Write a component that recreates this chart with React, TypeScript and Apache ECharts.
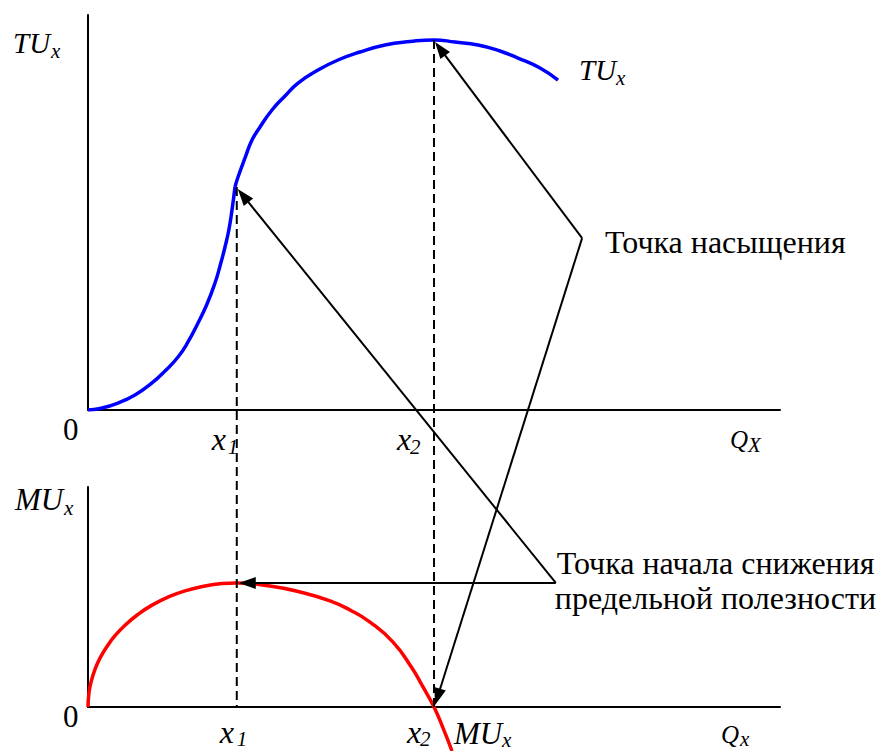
import React, { useEffect, useRef } from "react";
import * as echarts from "echarts";

// Total utility TU(Q): lower convex part up to x1, upper concave part after x1
const tuLowerQ = [0, 1.73, 4.34, 6.79, 9.25, 11.13, 13.01, 14.45, 15.9, 17.2, 18.35, 19.08, 19.8, 20.38, 20.81, 21.24];
const tuLowerValues = [0, 0.38, 1.77, 3.8, 6.84, 9.87, 13.42, 17.22, 22.03, 26.84, 32.15, 36.46, 41.27, 45.82, 50.63, 56.46];
const tuUpperQ = [21.24, 21.68, 22.69, 23.7, 24.86, 26.59, 28.47, 30.35, 33.24, 36.13, 39.31, 42.92, 46.53, 50.0, 53.03, 56.36, 59.54, 62.14, 65.32, 67.92];
const tuUpperValues = [56.46, 58.99, 63.8, 68.35, 71.65, 75.95, 79.49, 82.78, 86.08, 88.61, 90.63, 92.41, 93.29, 93.7, 93.16, 92.41, 90.89, 89.11, 86.58, 83.54];

// Marginal utility MU(Q)
const muQ = [0, 0.14, 0.43, 1.01, 1.73, 2.75, 3.9, 5.35, 7.23, 9.25, 11.56, 14.02, 16.91, 19.36, 21.5, 26.3, 30.64, 34.97, 37.86, 40.75, 44.08, 46.82, 48.41, 50.0, 51.3, 52.6];
const muValues = [0, 6.5, 11.2, 17.1, 22.2, 27.5, 32.4, 37.2, 42.1, 46.3, 49.95, 52.8, 55.0, 56.1, 56.4, 55.0, 52.3, 48.2, 44.1, 38.6, 29.5, 17.7, 9.1, 0, -9.5, -20];

// Key points
const keyQ = [21.5, 50]; // x1, x2
const kinkTU = 56.46; // TU at x1
const peakTU = 93.7; // TU at x2 (saturation)
const peakMU = 56.4; // MU at x1

// Annotation anchors (in data units of each panel)
const saturationAnchor = [71.4, 43.5]; // top panel
const declineAnchor = [67.6, 56.4]; // bottom panel

const textSaturation = "Точка насыщения";
const textDecline = ["Точка начала снижения", "предельной полезности"];

const FAMILY = "Liberation Serif";

function zip(a: number[], b: number[]) {
  return a.map((v, i) => [v, b[i]]);
}

function txt(x: number, baseline: number, text: string, size: number, italic: boolean) {
  return {
    type: "text",
    z: 100,
    x,
    y: baseline - 0.34 * size,
    style: {
      text,
      fontSize: size,
      fontFamily: FAMILY,
      fontStyle: italic ? "italic" : "normal",
      fill: "#000",
      align: "left",
      verticalAlign: "middle",
    },
  };
}

function arrow(from: number[], to: number[], len = 17, half = 6) {
  const dx = to[0] - from[0];
  const dy = to[1] - from[1];
  const d = Math.sqrt(dx * dx + dy * dy);
  const ux = dx / d;
  const uy = dy / d;
  const bx = to[0] - ux * len;
  const by = to[1] - uy * len;
  const nx = -uy;
  const ny = ux;
  return [
    {
      type: "line",
      z: 90,
      shape: { x1: from[0], y1: from[1], x2: bx + ux * 2, y2: by + uy * 2 },
      style: { stroke: "#000", lineWidth: 2 },
    },
    {
      type: "polygon",
      z: 91,
      shape: {
        points: [
          [to[0], to[1]],
          [bx + nx * half, by + ny * half],
          [bx - nx * half, by - ny * half],
        ],
      },
      style: { fill: "#000", stroke: "none" },
    },
  ];
}

export default function App() {
  const ref = useRef<HTMLDivElement>(null);

  useEffect(() => {
    const chart = echarts.init(ref.current!, null, { renderer: "svg" });
    const axisLine = { show: true, onZero: false, lineStyle: { color: "#000", width: 2 } };
    const axisBase = {
      type: "value",
      min: 0,
      max: 100,
      axisLine,
      axisTick: { show: false },
      axisLabel: { show: false },
      splitLine: { show: false },
    };
    const curve = {
      type: "line",
      smooth: 0.5,
      symbol: "none",
      z: 5,
    };
    chart.setOption({
      animation: false,
      backgroundColor: "#fff",
      grid: [
        { left: 88, top: 15, width: 692, height: 395 },
        { left: 88, top: 487, width: 692, height: 220 },
      ],
      xAxis: [
        { ...axisBase, gridIndex: 0 },
        { ...axisBase, gridIndex: 1 },
      ],
      yAxis: [
        { ...axisBase, gridIndex: 0 },
        { ...axisBase, gridIndex: 1 },
      ],
      series: [
        {
          ...curve,
          xAxisIndex: 0,
          yAxisIndex: 0,
          data: zip(tuLowerQ, tuLowerValues),
          lineStyle: { color: "#0000ff", width: 3.5 },
        },
        {
          ...curve,
          xAxisIndex: 0,
          yAxisIndex: 0,
          data: zip(tuUpperQ, tuUpperValues),
          lineStyle: { color: "#0000ff", width: 3.5 },
        },
        {
          ...curve,
          xAxisIndex: 1,
          yAxisIndex: 1,
          data: zip(muQ, muValues),
          clip: false,
          lineStyle: { color: "#ff0000", width: 3.5 },
        },
      ],
    });

    const toPx = (g: number, p: number[]) => chart.convertToPixel({ gridIndex: g } as any, p) as number[];
    const o0 = toPx(0, [0, 0]);
    const o1 = toPx(1, [0, 0]);
    const px1 = toPx(0, [keyQ[0], 0])[0];
    const px2 = toPx(0, [keyQ[1], 0])[0];
    const kink = toPx(0, [keyQ[0], kinkTU]);
    const satPt = toPx(0, [keyQ[1], peakTU]);
    const muZero = toPx(1, [keyQ[1], 0]);
    const muPeakPt = toPx(1, [keyQ[0], peakMU]);
    const satA = toPx(0, saturationAnchor);
    const decA = toPx(1, declineAnchor);
    const tuEnd = toPx(0, [tuUpperQ[tuUpperQ.length - 1], tuUpperValues[tuUpperValues.length - 1]]);

    const dash = { stroke: "#000", lineWidth: 2, lineDash: [9, 5] };
    const graphic: any[] = [
      { type: "line", z: 80, shape: { x1: px1, y1: kink[1], x2: px1, y2: o1[1] }, style: dash },
      { type: "line", z: 80, shape: { x1: px2, y1: satPt[1], x2: px2, y2: o1[1] }, style: dash },
      ...arrow(satA, [satPt[0] + 1, satPt[1] + 2]),
      ...arrow(satA, [muZero[0] + 1, muZero[1] - 2]),
      ...arrow(decA, [kink[0] + 1, kink[1] + 2]),
      ...arrow(decA, [muPeakPt[0] + 2, muPeakPt[1]]),
      // top panel labels
      txt(13, 53, "TU", 29, true),
      txt(51, 58, "x", 21, true),
      txt(tuEnd[0] + 21, tuEnd[1], "TU", 29, true),
      txt(tuEnd[0] + 58, tuEnd[1] + 5, "x", 21, true),
      txt(o0[0] - 25, o0[1] + 30, "0", 31, false),
      txt(px1 - 25, o0[1] + 40, "x", 32, true),
      txt(px1 - 9, o0[1] + 44, "1", 21, true),
      txt(px2 - 37, o0[1] + 40, "x", 32, true),
      txt(px2 - 24, o0[1] + 44, "2", 21, true),
      txt(730, o0[1] + 38, "Q", 25, true),
      txt(748, o0[1] + 42, "X", 21, true),
      // bottom panel labels
      txt(15, 510, "MU", 31, true),
      txt(64, 515, "x", 21, true),
      txt(o1[0] - 25, o1[1] + 20, "0", 31, false),
      txt(px1 - 17, o1[1] + 36, "x", 32, true),
      txt(px1, o1[1] + 39, "1", 21, true),
      txt(px2 - 27, o1[1] + 36, "x", 32, true),
      txt(px2 - 14, o1[1] + 39, "2", 21, true),
      txt(454, o1[1] + 37, "MU", 31, true),
      txt(502, o1[1] + 40, "x", 21, true),
      txt(721, o1[1] + 36, "Q", 25, true),
      txt(740, o1[1] + 39, "x", 21, true),
      // annotations
      txt(satA[0] + 23, satA[1] + 15, textSaturation, 32, false),
      txt(decA[0] + 1, decA[1] - 9, textDecline[0], 32, false),
      txt(decA[0] - 1, decA[1] + 26, textDecline[1], 32, false),
    ];
    chart.setOption({ graphic });

    return () => chart.dispose();
  }, []);

  return <div ref={ref} style={{ position: "fixed", left: 0, top: 0, width: 877, height: 751 }} />;
}
